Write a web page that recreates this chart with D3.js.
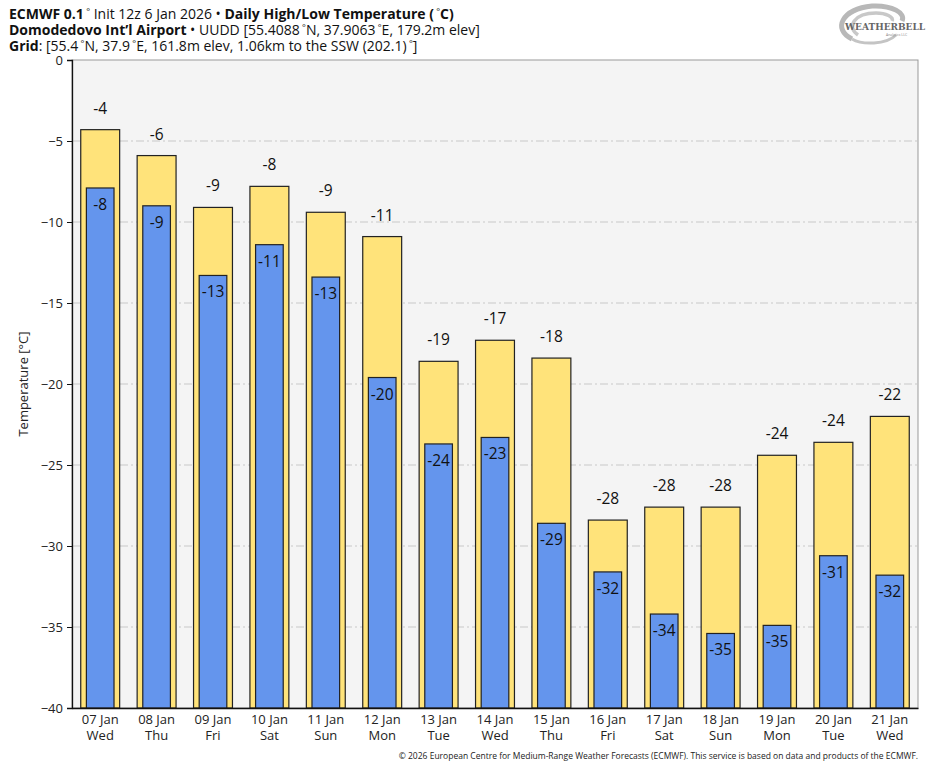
<!DOCTYPE html>
<html>
<head>
<meta charset="utf-8">
<script src="https://cdn.jsdelivr.net/npm/d3@7"></script>
<style>
  body { margin: 0; background: #fff; }
  svg { font-family: "Open Sans", "Noto Sans", sans-serif; }
</style>
</head>
<body>
<div id="chart"></div>
<script>
const width = 935;
const height = 768;

// Data
const dates = ["07 Jan", "08 Jan", "09 Jan", "10 Jan", "11 Jan", "12 Jan", "13 Jan", "14 Jan",
    "15 Jan", "16 Jan", "17 Jan", "18 Jan", "19 Jan", "20 Jan", "21 Jan"];
const weekdays = ["Wed", "Thu", "Fri", "Sat", "Sun", "Mon", "Tue", "Wed",
    "Thu", "Fri", "Sat", "Sun", "Mon", "Tue", "Wed"];
const highs = [-4.3, -5.9, -9.1, -7.8, -9.4, -10.9, -18.6, -17.3, -18.4, -28.4, -27.6, -27.6, -24.4, -23.6, -22.0];
const lows = [-7.9, -9.0, -13.3, -11.4, -13.4, -19.6, -23.7, -23.3, -28.6, -31.6, -34.2, -35.4, -34.9, -30.6, -31.8];
const yTicks = [0, -5, -10, -15, -20, -25, -30, -35, -40];

const margin = { top: 60, right: 17, bottom: 60, left: 72 };
const innerWidth = width - margin.left - margin.right;
const innerHeight = height - margin.top - margin.bottom;

const svg = d3.select("#chart")
    .append("svg")
    .attr("width", width)
    .attr("height", height);

// title block; "deg" parts are drawn as small raised degree rings
const titles = [
    [["ECMWF 0.1", 1], ["deg"], [" Init 12z 6 Jan 2026 • ", 0], ["Daily High/Low Temperature (", 1], ["deg"], ["C)", 1]],
    [["Domodedovo Int’l Airport", 1], [" • UUDD [55.4088", 0], ["deg"], ["N, 37.9063", 0], ["deg"], ["E, 179.2m elev]", 0]],
    [["Grid", 1], [": [55.4", 0], ["deg"], ["N, 37.9", 0], ["deg"], ["E, 161.8m elev, 1.06km to the SSW (202.1)", 0], ["deg"], ["]", 0]]
];
titles.forEach((parts, i) => {
    const t = svg.append("text")
        .attr("x", 9)
        .attr("y", 19 + i * 16)
        .attr("font-size", 14)
        .attr("fill", "#111");
    let raised = false;
    parts.forEach(p => {
        if (p[0] === "deg") {
            t.append("tspan").attr("font-size", 9).attr("dy", -4).text(" °");
            raised = true;
        } else {
            t.append("tspan")
                .attr("font-weight", p[1] ? "bold" : "normal")
                .attr("dy", raised ? 4 : 0)
                .text(p[0]);
            raised = false;
        }
    });
});

// logo (rough)
const logo = svg.append("g").attr("transform", "translate(872,25)");
logo.append("path")
    .attr("d", "M-20,14 C-40,4 -30,-16 0,-19 C20,-20 34,-12 30,-4")
    .attr("fill", "none").attr("stroke", "#b8b8b8").attr("stroke-width", 5);
logo.append("path")
    .attr("d", "M-14,10 C-26,2 -18,-12 4,-12 C14,-12 22,-8 20,-4")
    .attr("fill", "none").attr("stroke", "#c8c8c8").attr("stroke-width", 3.5);
logo.append("path")
    .attr("d", "M24,10 C14,20 -10,20 -20,14")
    .attr("fill", "none").attr("stroke", "#c4c4c4").attr("stroke-width", 3);
logo.append("text").attr("x", -27).attr("y", 5).attr("font-size", 9)
    .attr("font-family", "DejaVu Serif").attr("font-weight", "bold").attr("fill", "#666")
    .text("WEATHERBELL");
logo.append("text").attr("x", 14).attr("y", 11).attr("font-size", 3.5)
    .attr("fill", "#888").text("Analytics LLC");

const g = svg.append("g")
    .attr("transform", `translate(${margin.left},${margin.top})`);

const x = d3.scaleBand()
    .domain(dates)
    .range([0, innerWidth]);

const y = d3.scaleLinear()
    .domain([-40, 0])
    .range([innerHeight, 0]);

// plot background
g.append("rect")
    .attr("width", innerWidth)
    .attr("height", innerHeight)
    .attr("fill", "#f4f4f4")
    .attr("stroke", "#999")
    .attr("stroke-width", 1);

// grid
g.selectAll(".grid")
    .data(yTicks.filter(d => d !== 0 && d !== -40))
    .enter()
    .append("line")
    .attr("x1", 0)
    .attr("x2", innerWidth)
    .attr("y1", d => y(d))
    .attr("y2", d => y(d))
    .attr("stroke", "#c8c8c8")
    .attr("stroke-width", 1)
    .attr("stroke-dasharray", "8,3,2,3");

const hiW = x.bandwidth() * 0.69;
const loW = x.bandwidth() * 0.49;

g.selectAll(".hi")
    .data(highs)
    .enter()
    .append("rect")
    .attr("x", (d, i) => x(dates[i]) + (x.bandwidth() - hiW) / 2)
    .attr("y", d => y(d))
    .attr("width", hiW)
    .attr("height", d => innerHeight - y(d))
    .attr("fill", "#ffe37a")
    .attr("stroke", "#222")
    .attr("stroke-width", 1.2);

g.selectAll(".lo")
    .data(lows)
    .enter()
    .append("rect")
    .attr("x", (d, i) => x(dates[i]) + (x.bandwidth() - loW) / 2)
    .attr("y", d => y(d))
    .attr("width", loW)
    .attr("height", d => innerHeight - y(d))
    .attr("fill", "#6495ed")
    .attr("stroke", "#222")
    .attr("stroke-width", 1.2);

g.selectAll(".hiLabel")
    .data(highs)
    .enter()
    .append("text")
    .attr("x", (d, i) => x(dates[i]) + x.bandwidth() / 2)
    .attr("y", d => y(d) - 16)
    .attr("text-anchor", "middle")
    .attr("font-size", 15.5)
    .attr("fill", "#111")
    .text(d => Math.round(d));

g.selectAll(".loLabel")
    .data(lows)
    .enter()
    .append("text")
    .attr("x", (d, i) => x(dates[i]) + x.bandwidth() / 2)
    .attr("y", d => y(d) + 22)
    .attr("text-anchor", "middle")
    .attr("font-size", 15.5)
    .attr("fill", "#111")
    .text(d => Math.round(d));

// axes
const yAxis = g.append("g")
    .call(d3.axisLeft(y).tickValues(yTicks).tickSize(5).tickPadding(4).tickFormat(d3.format("d")));
yAxis.selectAll("text").attr("font-size", 13).attr("fill", "#222")
    .attr("font-family", "'Open Sans', sans-serif");
yAxis.select(".domain").attr("stroke", "#111").attr("stroke-width", 1.3);
yAxis.selectAll(".tick line").attr("stroke", "#111");

const xAxis = g.append("g")
    .attr("transform", `translate(0,${innerHeight})`)
    .call(d3.axisBottom(x).tickSize(0).tickPadding(7));
xAxis.select(".domain").attr("stroke", "#111").attr("stroke-width", 1.3);
xAxis.selectAll(".tick text")
    .attr("font-size", 13)
    .attr("fill", "#222")
    .attr("font-family", "'Open Sans', sans-serif")
    .each(function (d, i) {
        const t = d3.select(this);
        t.text(null);
        t.append("tspan").attr("x", 0).attr("dy", "0.71em").text(d);
        t.append("tspan").attr("x", 0).attr("dy", "1.2em").text(weekdays[i]);
    });

// y label
svg.append("text")
    .attr("transform", `translate(28,${margin.top + innerHeight / 2}) rotate(-90)`)
    .attr("text-anchor", "middle")
    .attr("font-size", 13)
    .attr("fill", "#222")
    .text("Temperature [°C]");

// footer
svg.append("text")
    .attr("x", 918)
    .attr("y", 759)
    .attr("text-anchor", "end")
    .attr("font-size", 8.5)
    .attr("fill", "#222")
    .text("© 2026 European Centre for Medium-Range Weather Forecasts (ECMWF). This service is based on data and products of the ECMWF.");
</script>
</body>
</html>
